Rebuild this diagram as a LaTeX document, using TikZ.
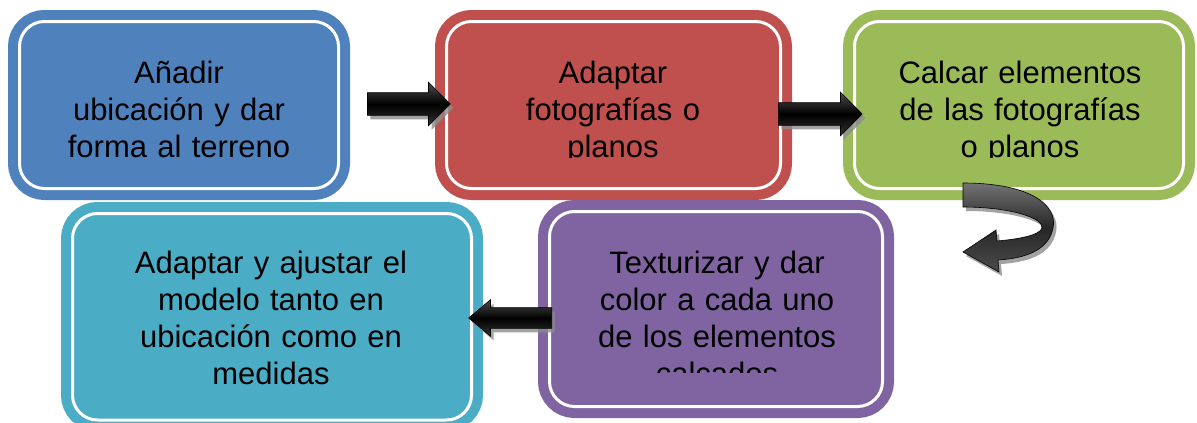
\documentclass[tikz,border=0pt]{standalone}
\usepackage{fontspec}
\setmainfont{Liberation Sans}
\usetikzlibrary{shapes.arrows,shadows}

\definecolor{azul}{HTML}{4F81BD}
\definecolor{rojo}{HTML}{C0504D}
\definecolor{verde}{HTML}{9BBB59}
\definecolor{morado}{HTML}{8064A2}
\definecolor{turquesa}{HTML}{4BACC6}

\begin{document}
\begin{tikzpicture}[x=1pt,y=-1pt,
  etapa/.style={draw=#1, fill=#1, double=white, double distance=3pt,
    line width=10pt, rounded corners=25pt, inner sep=0pt},
  texto/.style={font=\fontsize{31}{37}\selectfont, text width=420pt,
    align=center, anchor=base, inner sep=0pt},
  flecha/.style={single arrow, draw=black, line width=0.6pt,
    minimum height=#1, text height=22pt, text depth=0pt, inner sep=0pt,
    single arrow head extend=10.5pt, single arrow tip angle=90,
    top color=black!70, bottom color=black!80, middle color=black,
    drop shadow={shadow xshift=3pt, shadow yshift=-4pt, fill=black!45, opacity=0.8}}]
\useasboundingbox (0,0) rectangle (1197,423);

% Cajas de las etapas
\node[etapa=azul, minimum width=319pt, minimum height=167pt] (anadir) at (179,105) {};
\node[etapa=rojo, minimum width=334pt, minimum height=167pt] (fotos) at (613.5,105) {};
\node[etapa=verde, minimum width=329pt, minimum height=167pt] (calcar) at (1019,105) {};
\node[etapa=morado, minimum width=333pt, minimum height=195pt] (texturizar) at (716,309) {};
\node[etapa=turquesa, minimum width=399pt, minimum height=206.5pt] (ajustar) at (272,316.75) {};

% Textos
\node[texto] (anadirtxt) at (179,83) {Añadir\\ubicación y dar\\forma al terreno};
\begin{scope}
\clip (446,20) rectangle (781,157.5);
\node[texto] (fotostxt) at (613,83) {Adaptar\\fotografías o\\planos};
\end{scope}
\begin{scope}
\clip (855,20) rectangle (1184,157.5);
\node[texto] (calcartxt) at (1020,83) {Calcar elementos\\de las fotografías\\o planos};
\end{scope}
\begin{scope}
\clip (550,212) rectangle (882,372.5);
\node[texto] (texturizartxt) at (717,273) {Texturizar y dar\\color a cada uno\\de los elementos\\calcados};
\end{scope}
\node[texto] (ajustartxt) at (271,273) {Adaptar y ajustar el\\modelo tanto en\\ubicación como en\\medidas};

% Flechas
\node[flecha=83pt, anchor=tail] (f1) at (367,104) {};
\node[flecha=84pt, anchor=tail] (f2) at (778,114) {};
\node[flecha=83pt, anchor=tail, shape border rotate=180, text height=20pt,
  single arrow head extend=8pt, single arrow tip angle=80] (f4) at (552,318) {};

% Flecha curva
\path[draw=black, line width=0.6pt, top color=black!55, bottom color=black!70, middle color=black!85,
  drop shadow={shadow xshift=3pt, shadow yshift=-4pt, fill=black!45, opacity=0.8}]
  (963,183) .. controls (1030,183) and (1058,205) .. (1053,228)
  .. controls (1049,248) and (1030,258) .. (998,260)
  -- (999,272) -- (963,252) -- (996,230) -- (997,241)
  .. controls (1020,239) and (1040,235) .. (1042,228)
  .. controls (1044,218) and (1010,207) .. (963,207) -- cycle;
\end{tikzpicture}
\end{document}
